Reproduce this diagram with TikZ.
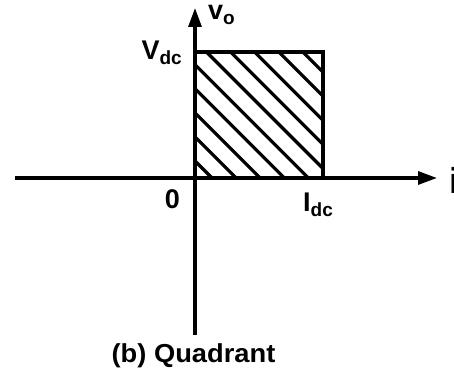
\documentclass[tikz,border=0pt]{standalone}
\usepackage{fontspec}
\setmainfont{Liberation Sans}
\newfontfamily\capfont[FakeStretch=1.05]{Liberation Sans}
\usetikzlibrary{arrows.meta}
\newcommand\lowsub[1]{\raisebox{-5pt}{\fontsize{19}{19}\selectfont #1}}
\tikzset{axis/.style={-{Triangle[length=19pt,width=13pt]},line width=3.2pt},frame/.style={line width=3.2pt,line join=miter},hatch/.style={line width=3.2pt},lbl/.style={inner sep=0pt,font=\bfseries\fontsize{27}{29}\selectfont}}

\begin{document}
\begin{tikzpicture}[x=1pt,y=1pt]
\useasboundingbox (-195,-210) rectangle (259,178);
\coordinate (O) at (0,0);
\coordinate (left) at (-180,0);
\coordinate (right) at (242,0);
\coordinate (down) at (0,-157);
\coordinate (up) at (0,170);
\coordinate (corner) at (128,126);
\begin{scope}
\clip (O) rectangle (corner);
\foreach \k in {0,...,9}
  \draw[hatch] ({17+24.1*\k},0) -- ++(-200,200);
\end{scope}
\draw[frame] (O |- corner) -- (corner) -- (corner |- O);
\draw[axis] (left) -- (right);
\draw[axis] (down) -- (up);
\node[lbl,anchor=base west] (vo) at (13,158) {v\lowsub{o}};
\node[lbl,anchor=base east] (vdc) at (-13,118) {V\lowsub{dc}};
\node[lbl,anchor=base east] (zero) at (-15,-30) {0};
\node[lbl,anchor=base west] (idc) at (108,-33) {I\lowsub{dc}};
\node[lbl,anchor=base west,font=\bfseries\fontsize{36}{38}\selectfont] (i) at (254,-15) {i};
\node[inner sep=0pt,anchor=base,font=\capfont\bfseries\fontsize{26}{28}\selectfont] (cap) at (-1.5,-184) {(b) Quadrant};
\end{tikzpicture}
\end{document}
